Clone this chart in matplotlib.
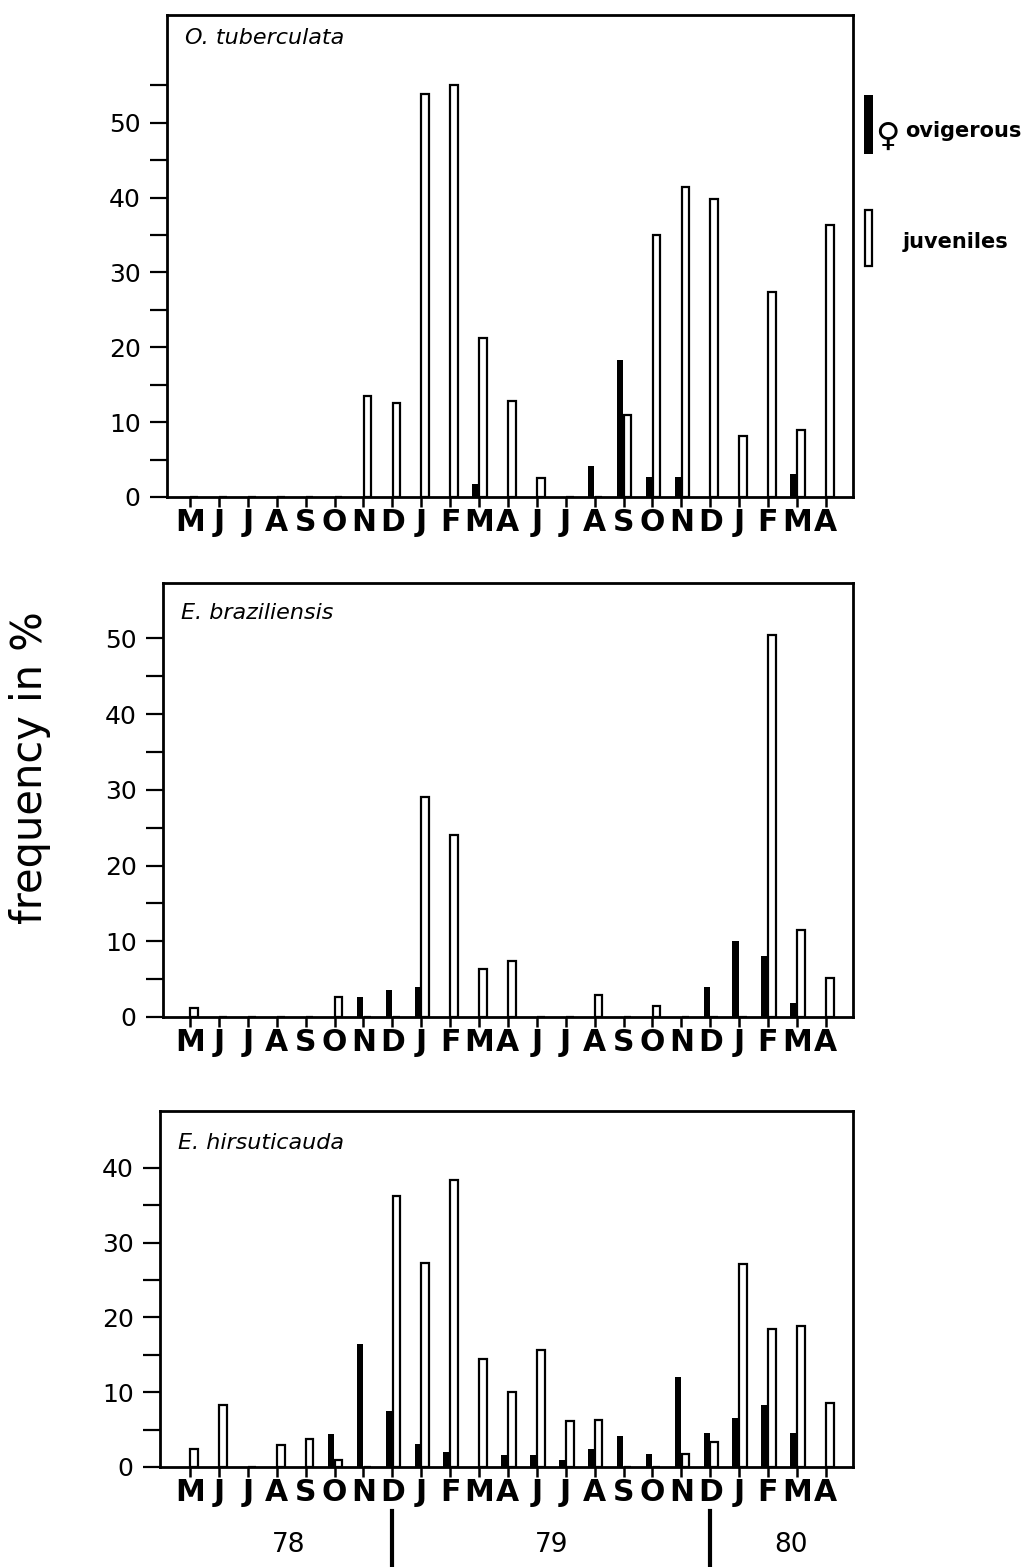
"""Monthly frequency of ovigerous females and juveniles, three species (1978-80)."""

import matplotlib

matplotlib.use('Agg')
import matplotlib.pyplot as plt
import numpy as np
from matplotlib import font_manager
from matplotlib.patches import Rectangle

months = ['M', 'J', 'J', 'A', 'S', 'O', 'N', 'D', 'J', 'F', 'M', 'A',
          'J', 'J', 'A', 'S', 'O', 'N', 'D', 'J', 'F', 'M', 'A']
years = ['78', '79', '80']

species = ['O. tuberculata', 'E. braziliensis', 'E. hirsuticauda']

# % ovigerous females (black) and juveniles (white) per month
ovig_otub = [0, 0, 0, 0, 0, 0, 0, 0, 0, 0, 1.8, 0,
             0, 0, 4.1, 18.3, 2.7, 2.7, 0, 0, 0, 3.1, 0]
juv_otub = [0, 0, 0, 0, 0, 0, 13.5, 12.5, 53.9, 55.1, 21.3, 12.8,
            2.6, 0, 0, 10.9, 35.0, 41.4, 39.8, 8.1, 27.4, 8.9, 36.3]

ovig_ebra = [0, 0, 0, 0, 0, 0, 2.6, 3.6, 4.0, 0, 0, 0,
             0, 0, 0, 0, 0, 0, 4.0, 10.0, 8.0, 1.8, 0]
juv_ebra = [1.2, 0, 0, 0, 0, 2.7, 0, 0, 29.0, 24.0, 6.3, 7.4,
            0, 0, 2.9, 0, 1.4, 0, 0, 0, 50.4, 11.5, 5.2]

ovig_ehir = [0, 0, 0, 0, 0, 4.4, 16.4, 7.5, 3.1, 2.0, 0, 1.6,
             1.6, 1.0, 2.4, 4.2, 1.8, 12.0, 4.6, 6.5, 8.3, 4.5, 0]
juv_ehir = [2.4, 8.3, 0, 2.9, 3.7, 1.0, 0, 36.2, 27.3, 38.4, 14.5, 10.0,
            15.6, 6.1, 6.3, 0, 0, 1.8, 3.3, 27.2, 18.5, 18.9, 8.5]

W, H = 1035, 1567
fig = plt.figure(figsize=(W / 100, H / 100), dpi=100)

try:
    font_manager.findfont('Liberation Sans Narrow', fallback_to_default=False)
    month_font = dict(family='Liberation Sans Narrow', fontsize=26)
except ValueError:
    month_font = dict(family='DejaVu Sans', fontsize=21.5)


def px(x0, y_top, x1, y_bot):
    # pixel box (top-left origin) -> figure fraction rect
    return [x0 / W, 1 - y_bot / H, (x1 - x0) / W, (y_bot - y_top) / H]


panels = [
    # rect, ylim top, last major tick, last minor tick, title y (axes frac)
    (px(167, 15, 853, 497), 64.4, 50, 55, 0.952, ovig_otub, juv_otub),
    (px(163, 583, 853, 1017), 57.3, 50, 45, 0.931, ovig_ebra, juv_ebra),
    (px(160, 1111, 853, 1467), 47.6, 40, 35, 0.91, ovig_ehir, juv_ehir),
]

tick0, step = 190, 28.9
x = np.arange(len(months))
axes = []
for (rect, ytop, major_max, minor_max, ty, ovig, juv), name in zip(panels, species):
    ax = fig.add_axes(rect)
    axes.append(ax)
    left = (rect[0] * W - tick0) / step
    right = (853 - tick0) / step
    ax.set_xlim(left, right)
    ax.set_ylim(0, ytop)

    ax.bar(x - 0.12, ovig, width=0.22, color='black', lw=0, zorder=3)
    ax.bar(x + 0.14, juv, width=0.26, facecolor='white', edgecolor='black',
           lw=1.6, zorder=3)

    for s in ax.spines.values():
        s.set_linewidth(2.0)
        s.set_zorder(4)

    ax.set_xticks(x)
    ax.set_xticklabels(months, fontweight='bold', **month_font)
    ax.tick_params(axis='x', direction='out', length=7, width=1.8, pad=1)

    ax.set_yticks(np.arange(0, major_max + 1, 10))
    ax.set_yticks(np.arange(5, minor_max + 1, 10), minor=True)
    ax.tick_params(axis='y', which='both', direction='out', length=12,
                   width=1.6, pad=7, labelsize=18)
    ax.tick_params(axis='y', which='minor', labelleft=False)

    ax.text(0.026, ty, name, transform=ax.transAxes, fontsize=16,
            fontstyle='italic', ha='left', va='center')

# y label
fig.text(30 / W, 1 - 768 / H, 'frequency in %', rotation=90, fontsize=30,
         ha='center', va='center')

# legend (outside top panel)
fig.add_artist(Rectangle((864 / W, 1 - 154 / H), 9 / W, 59 / H,
                         transform=fig.transFigure, facecolor='black',
                         edgecolor='black', lw=0))
fig.add_artist(Rectangle((865 / W, 1 - 266 / H), 7 / W, 56 / H,
                         transform=fig.transFigure, facecolor='white',
                         edgecolor='black', lw=1.6))
fig.text(887 / W, 1 - 136 / H, '\u2640', fontsize=24, ha='center', va='center')
fig.text(905 / W, 1 - 131 / H, 'ovigerous', fontsize=15, fontweight='bold',
         ha='left', va='center')
fig.text(903 / W, 1 - 242 / H, 'juveniles', fontsize=15, fontweight='bold',
         ha='left', va='center')

# year labels and separators under bottom panel
bx = axes[-1]
trans = matplotlib.transforms.blended_transform_factory(bx.transData, fig.transFigure)
for xi, lab in zip([3.4, 12.5, 20.8], years):
    fig.text(xi, 1 - 1545 / H, lab, transform=trans, fontsize=19,
             ha='center', va='center')
for xi in [7, 18]:
    fig.add_artist(plt.Line2D([xi, xi], [1 - 1565 / H, 1 - 1511 / H],
                              transform=trans, color='black', lw=3))

fig.savefig('out.png', dpi=100)
